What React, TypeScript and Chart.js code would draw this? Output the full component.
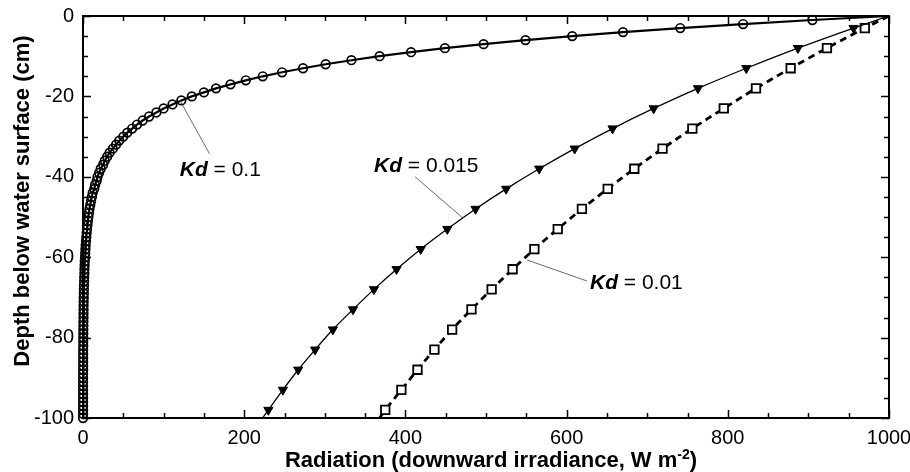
import React, { useEffect, useRef } from 'react';
import { Chart, registerables } from 'chart.js';

Chart.register(...registerables);

// Depth (cm, negative = below surface) for the Kd = 0.1 series, one sample per cm
const depthDense = [
  0, -1, -2, -3, -4, -5, -6, -7, -8, -9, -10, -11, -12, -13, -14, -15, -16, -17, -18, -19, -20,
  -21, -22, -23, -24, -25, -26, -27, -28, -29, -30, -31, -32, -33, -34, -35, -36, -37, -38, -39, -40,
  -41, -42, -43, -44, -45, -46, -47, -48, -49, -50, -51, -52, -53, -54, -55, -56, -57, -58, -59, -60,
  -61, -62, -63, -64, -65, -66, -67, -68, -69, -70, -71, -72, -73, -74, -75, -76, -77, -78, -79, -80,
  -81, -82, -83, -84, -85, -86, -87, -88, -89, -90, -91, -92, -93, -94, -95, -96, -97, -98, -99, -100,
];
// Radiation (W m-2) for Kd = 0.1
const radKd01 = [
  1000, 905, 819, 741, 670, 607, 549, 497, 449, 407, 368, 333, 301, 273, 247, 223, 202, 183, 165, 150, 135,
  122, 111, 100, 91, 82, 74, 67, 61, 55, 50, 45, 41, 37, 33, 30, 27, 25, 22, 20, 18,
  17, 15, 14, 12, 11, 10, 9, 8, 7.4, 6.7, 6.1, 5.5, 5.0, 4.5, 4.1, 3.7, 3.3, 3.0, 2.7, 2.5,
  2.2, 2.0, 1.8, 1.7, 1.5, 1.4, 1.2, 1.1, 1.0, 0.9, 0.8, 0.7, 0.7, 0.6, 0.6, 0.5, 0.5, 0.4, 0.4, 0.3,
  0.3, 0.3, 0.2, 0.2, 0.2, 0.2, 0.2, 0.2, 0.1, 0.1, 0.1, 0.1, 0.1, 0.1, 0.1, 0.1, 0.1, 0.1, 0.1, 0.05,
];
// Depths for the Kd = 0.015 and Kd = 0.01 series (surface, markers every 5 cm, bottom)
const depthSparse = [0, -3, -8, -13, -18, -23, -28, -33, -38, -43, -48, -53, -58, -63, -68, -73, -78, -83, -88, -93, -98, -100];
const radKd015 = [1000, 956, 887, 823, 763, 708, 657, 610, 566, 525, 487, 452, 419, 389, 361, 335, 310, 288, 267, 248, 230, 223];
const radKd001 = [1000, 970, 923, 878, 835, 795, 756, 719, 684, 651, 619, 589, 560, 533, 507, 482, 458, 436, 415, 395, 375, 368];

const xMin = 0;
const xMax = 1000;
const yMin = -100;
const yMax = 0;
const xMajorStep = 200;
const xMinorStep = 50;
const yMajorStep = 20;
const yMinorStep = 5;

const xTitleMain = 'Radiation (downward irradiance, W m';
const xTitleSup = '-2';
const xTitleEnd = ')';
const yTitle = 'Depth below water surface (cm)';

// Curve labels, anchored in data units
const curveLabels = [
  { name: 'Kd', value: ' = 0.1', tx: 120, ty: -38.3, ax: 120, ay: -20.9, bx: 157, by: -34.3 },
  { name: 'Kd', value: ' = 0.015', tx: 361, ty: -37.3, ax: 412, ay: -40, bx: 471, by: -50.2 },
  { name: 'Kd', value: ' = 0.01', tx: 629, ty: -66.4, ax: 551, ay: -60.7, bx: 625, by: -65.9 },
];

const FONT = '"Liberation Sans", Arial, Helvetica, sans-serif';

const toXY = (xs: number[], ys: number[]) => xs.map((x, i) => ({ x, y: ys[i] }));

const framePlugin = {
  id: 'frameTicksLabels',
  afterDatasetsDraw(chart: any) {
    const { ctx, chartArea } = chart;
    const xs = chart.scales.x;
    const ys = chart.scales.y;
    const { left, right, top, bottom } = chartArea;
    ctx.save();
    ctx.strokeStyle = '#000';
    // ticks
    ctx.lineWidth = 1.5;
    ctx.beginPath();
    for (let v = xMin; v <= xMax; v += xMinorStep) {
      const px = Math.round(xs.getPixelForValue(v)) + 0.5;
      const len = v % xMajorStep === 0 ? 8 : 5;
      ctx.moveTo(px, bottom);
      ctx.lineTo(px, bottom - len);
      ctx.moveTo(px, top);
      ctx.lineTo(px, top + len);
    }
    for (let v = yMin; v <= yMax; v += yMinorStep) {
      const py = Math.round(ys.getPixelForValue(v)) + 0.5;
      const len = v % yMajorStep === 0 ? 8 : 5;
      ctx.moveTo(left, py);
      ctx.lineTo(left + len, py);
      ctx.moveTo(right, py);
      ctx.lineTo(right - len, py);
    }
    ctx.stroke();
    // frame
    ctx.lineWidth = 2;
    ctx.strokeRect(left, top, right - left, bottom - top);

    // curve labels
    for (const lab of curveLabels) {
      ctx.lineWidth = 0.8;
      ctx.strokeStyle = '#444';
      ctx.beginPath();
      ctx.moveTo(xs.getPixelForValue(lab.ax), ys.getPixelForValue(lab.ay));
      ctx.lineTo(xs.getPixelForValue(lab.bx), ys.getPixelForValue(lab.by));
      ctx.stroke();
      const tx = xs.getPixelForValue(lab.tx);
      const ty = ys.getPixelForValue(lab.ty);
      ctx.fillStyle = '#000';
      ctx.textBaseline = 'middle';
      ctx.textAlign = 'left';
      ctx.font = `italic bold 21px ${FONT}`;
      ctx.fillText(lab.name, tx, ty);
      const w = ctx.measureText(lab.name).width;
      ctx.font = `21px ${FONT}`;
      ctx.fillText(lab.value, tx + w, ty);
    }

    // x title with superscript
    ctx.fillStyle = '#000';
    ctx.textBaseline = 'alphabetic';
    ctx.textAlign = 'left';
    const mainFont = `bold 22px ${FONT}`;
    const supFont = `bold 14px ${FONT}`;
    ctx.font = mainFont;
    const w1 = ctx.measureText(xTitleMain).width;
    const w3 = ctx.measureText(xTitleEnd).width;
    ctx.font = supFont;
    const w2 = ctx.measureText(xTitleSup).width;
    const cx = (left + right) / 2 + 5;
    let sx = cx - (w1 + w2 + w3) / 2;
    const base = 467;
    ctx.font = mainFont;
    ctx.fillText(xTitleMain, sx, base);
    sx += w1;
    ctx.font = supFont;
    ctx.fillText(xTitleSup, sx, base - 8);
    sx += w2;
    ctx.font = mainFont;
    ctx.fillText(xTitleEnd, sx, base);

    // y title
    ctx.save();
    ctx.translate(29, 201);
    ctx.rotate(-Math.PI / 2);
    ctx.textAlign = 'center';
    ctx.font = `bold 22px ${FONT}`;
    ctx.fillText(yTitle, 0, 0);
    ctx.restore();

    ctx.restore();
  },
};

export default function App() {
  const ref = useRef<HTMLCanvasElement>(null);
  useEffect(() => {
    document.body.style.margin = '0';
    const canvas = ref.current!;
    Chart.defaults.font.family = FONT;
    Chart.defaults.color = '#000';
    const lineData01 = toXY(radKd01, depthDense);
    const lineData015 = toXY(radKd015, depthSparse);
    const lineData001 = toXY(radKd001, depthSparse);
    const chart = new Chart(canvas, {
      type: 'scatter',
      data: {
        datasets: [
          {
            label: 'Kd = 0.1',
            data: lineData01,
            showLine: true,
            borderColor: '#000',
            borderWidth: 2.2,
            pointStyle: 'circle',
            pointRadius: lineData01.map((_, i) => (i === 0 ? 0 : 4.3)),
            pointBorderWidth: 1.7,
            pointBorderColor: '#000',
            pointBackgroundColor: 'rgba(255,255,255,0)',
            clip: false,
          } as any,
          {
            label: 'Kd = 0.015',
            data: lineData015,
            showLine: true,
            tension: 0.35,
            borderColor: '#000',
            borderWidth: 1.3,
            pointStyle: 'triangle',
            rotation: 180,
            pointRadius: lineData015.map((_, i) => (i === 0 || i === lineData015.length - 1 ? 0 : 5.3)),
            pointBorderWidth: 1,
            pointBorderColor: '#000',
            pointBackgroundColor: '#000',
            clip: false,
          } as any,
          {
            label: 'Kd = 0.01',
            data: lineData001,
            showLine: true,
            tension: 0.35,
            borderColor: '#000',
            borderWidth: 2.8,
            borderDash: [7, 5],
            pointStyle: 'rect',
            pointRadius: lineData001.map((_, i) => (i === 0 || i === lineData001.length - 1 ? 0 : 6)),
            pointBorderWidth: 1.8,
            pointBorderColor: '#000',
            pointBackgroundColor: '#fff',
            clip: false,
          } as any,
        ],
      },
      options: {
        responsive: false,
        animation: false,
        events: [],
        layout: { padding: { top: 16, right: 21, left: 0, bottom: 0 } },
        plugins: {
          legend: { display: false },
          tooltip: { enabled: false },
        },
        scales: {
          x: {
            type: 'linear',
            min: xMin,
            max: xMax,
            grid: { display: false, drawTicks: false },
            border: { display: false },
            ticks: {
              stepSize: xMajorStep,
              padding: 8,
              maxRotation: 0,
              font: { size: 20 },
              color: '#000',
              callback: (v: any) => String(v),
            },
            afterFit(scale: any) {
              scale.height = 54;
              scale.paddingLeft = 0;
              scale.paddingRight = 0;
            },
          },
          y: {
            type: 'linear',
            min: yMin,
            max: yMax,
            grid: { display: false, drawTicks: false },
            border: { display: false },
            ticks: {
              stepSize: yMajorStep,
              padding: 9,
              font: { size: 20 },
              color: '#000',
              callback: (v: any) => String(v),
            },
            afterFit(scale: any) {
              scale.width = 83;
              scale.paddingTop = 0;
              scale.paddingBottom = 0;
            },
          },
        },
      },
      plugins: [framePlugin],
    } as any);
    return () => chart.destroy();
  }, []);
  return (
    <div style={{ width: 910, height: 472 }}>
      <canvas ref={ref} width={910} height={472} style={{ display: 'block' }} />
    </div>
  );
}
